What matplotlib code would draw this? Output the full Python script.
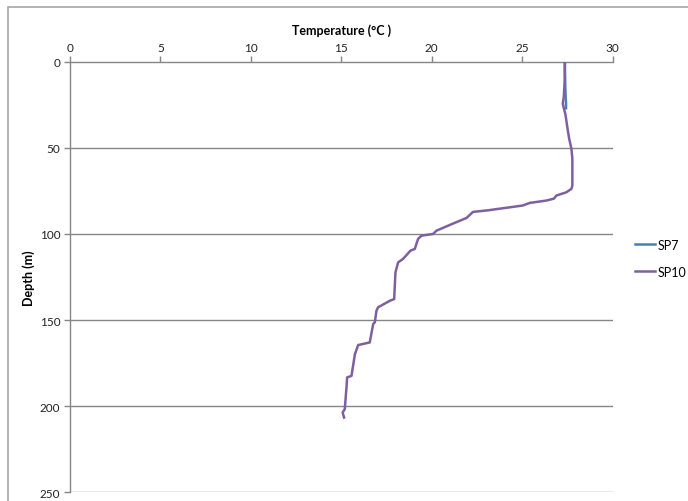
import matplotlib
matplotlib.use("Agg")
import matplotlib.pyplot as plt
from matplotlib.patches import Rectangle

plt.rcParams['font.family'] = ['Lato', 'DejaVu Sans']

# Data
sp7_depth = [0, 5, 10, 15, 20, 24, 27]
sp7_temp = [27.36, 27.36, 27.37, 27.38, 27.40, 27.42, 27.42]

sp10_depth = [0, 10, 20, 24.4, 27, 30.2, 35, 40.7, 45, 50.6, 56.4, 65, 71.9, 73.8,
              75.8, 77.7, 79.5, 80.6, 82.0, 83.5, 86.3, 87.2, 90.7, 94.8, 98.1, 100.0,
              101.0, 102.9, 108.7, 109.7, 114.5, 116.5, 122.3, 137.8, 138.8, 142.6,
              144.6, 151.3, 152.3, 163.0, 164.5, 169.8, 182.4, 183.3, 188.2, 201.7,
              203.7, 206.6]
sp10_temp = [27.35, 27.35, 27.30, 27.24, 27.30, 27.38, 27.45, 27.53, 27.60, 27.72,
             27.77, 27.77, 27.77, 27.72, 27.44, 26.89, 26.75, 26.34, 25.41, 25.03, 23.09,
             22.28, 21.92, 20.99, 20.26, 20.07, 19.43, 19.24, 19.06, 18.82, 18.41,
             18.14, 17.99, 17.92, 17.68, 17.03, 16.94, 16.85, 16.76, 16.57, 15.93,
             15.75, 15.56, 15.32, 15.29, 15.19, 15.07, 15.15]

x_ticks = [0, 5, 10, 15, 20, 25, 30]
y_ticks = [0, 50, 100, 150, 200, 250]

W, H = 688, 502
fig = plt.figure(figsize=(W / 100, H / 100), dpi=100)
fig.patches.append(Rectangle((7.5 / W, -0.1), 2, 1 - 7.5 / H + 0.1,
                             transform=fig.transFigure, fill=False,
                             edgecolor='#a6a6a6', linewidth=1.2))

ax = fig.add_axes([70 / W, 1 - 493.3 / H, (612.7 - 70) / W, (493.3 - 62.7) / H])

gray = '#868686'
for yv in y_ticks[1:]:
    ax.axhline(yv, color=gray, lw=1.0, zorder=1)

ax.plot(sp7_temp, sp7_depth, color='#4A7EBB', lw=1.8, label='SP7', zorder=3)
ax.plot(sp10_temp, sp10_depth, color='#7D60A0', lw=1.8, label='SP10', zorder=4)

ax.set_xlim(0, 30)
ax.set_ylim(250, 0)
ax.xaxis.tick_top()
ax.xaxis.set_label_position('top')
ax.set_xticks(x_ticks)
ax.set_yticks(y_ticks)
ax.tick_params(axis='both', direction='out', length=4, width=1, color=gray,
               labelsize=8.5, labelcolor='#222222', pad=3)
ax.tick_params(axis='x', pad=2)
for s in ['right', 'bottom']:
    ax.spines[s].set_visible(False)
for s in ['top', 'left']:
    ax.spines[s].set_color(gray)
    ax.spines[s].set_linewidth(1.0)

ax.set_xlabel('Temperature (°C )', fontsize=9, fontweight='bold', labelpad=6)
ax.set_ylabel('Depth (m)', fontsize=9, fontweight='bold', labelpad=3)

leg = ax.legend(loc='center left', bbox_to_anchor=(1.02, 0.544), frameon=False,
                fontsize=9, handlelength=1.6, handletextpad=0.2, labelspacing=1.2)

fig.savefig('out.png', dpi=100)
